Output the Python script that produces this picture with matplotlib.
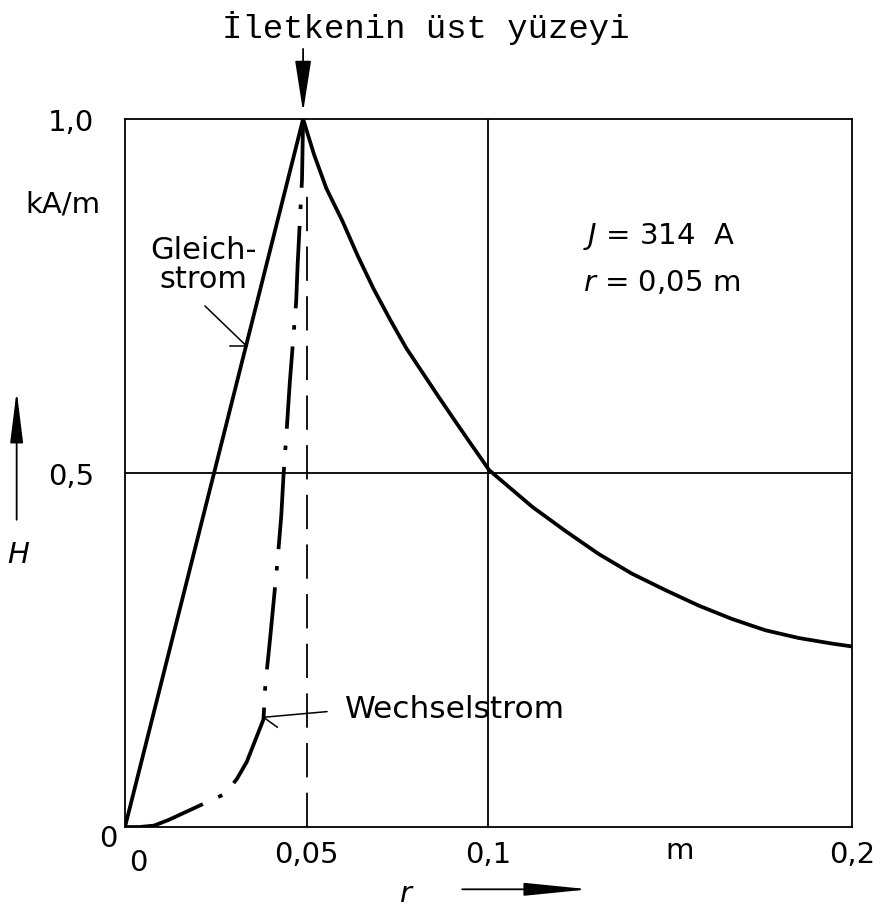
import matplotlib
matplotlib.use("Agg")
import matplotlib.pyplot as plt
from matplotlib.transforms import ScaledTranslation

# values (r in m, H in kA/m)
dc_r = [0.0, 0.049, 0.052, 0.0554, 0.0598, 0.0641, 0.0684, 0.0729, 0.0773,
        0.0817, 0.0861, 0.0906, 0.0949, 0.1002, 0.1121, 0.1212, 0.1302,
        0.1394, 0.1485, 0.1577, 0.1669, 0.1761, 0.1853, 0.1946, 0.2]
dc_h = [0.0, 1.0, 0.950, 0.902, 0.856, 0.806, 0.760, 0.717, 0.677,
        0.643, 0.609, 0.575, 0.543, 0.504, 0.452, 0.418, 0.386,
        0.358, 0.335, 0.313, 0.294, 0.278, 0.267, 0.259, 0.255]

ac_r = [0.0, 0.004, 0.008, 0.012, 0.0276, 0.0308, 0.0335, 0.0381, 0.0386,
        0.0399, 0.0419, 0.0430, 0.0436, 0.0444, 0.0453, 0.0471, 0.0475,
        0.0487, 0.049]
ac_h = [0.0, 0.0, 0.002, 0.010, 0.047, 0.068, 0.092, 0.152, 0.200,
        0.265, 0.372, 0.440, 0.496, 0.554, 0.625, 0.743, 0.795,
        0.915, 1.0]

surface_r = 0.05
peak = (0.049, 1.0)

xtick_vals = [0.0, 0.05, 0.1, 0.2]
xtick_labels = ["0", "0,05", "0,1", "0,2"]
ytick_vals = [0.0, 0.5, 1.0]
ytick_labels = ["0", "0,5", "1,0"]

plt.rcParams['font.family'] = ['DejaVu Sans']
FS = 21

fig = plt.figure(figsize=(8.82, 9.12), dpi=100)
ax = fig.add_axes([0.1417, 0.0921, 0.8243, 0.7763])
ax.set_xlim(0, 0.2)
ax.set_ylim(0, 1.0)

for s in ax.spines.values():
    s.set_linewidth(1.3)
    s.set_color("black")

# grid lines at 0.1 m and 0.5 kA/m
ax.axvline(0.1, color="black", lw=1.3)
ax.axhline(0.5, color="black", lw=1.3)

# conductor surface
ax.plot([surface_r, surface_r], [0, 0.9], color="black", lw=1.3,
        linestyle=(0, (19, 8.5)))

# Gleichstrom (DC)
ax.plot(dc_r, dc_h, color="black", lw=2.7, solid_joinstyle="round")
# Wechselstrom (AC)
ax.plot(ac_r, ac_h, color="black", lw=2.7,
        linestyle=(0, (22, 4.5, 1.2, 4.5)))

ax.set_xticks(xtick_vals)
ax.set_xticklabels(xtick_labels, fontsize=FS)
ax.set_yticks(ytick_vals)
ax.set_yticklabels(ytick_labels, fontsize=FS)
ax.tick_params(axis="both", length=0)
ax.tick_params(axis="x", pad=9)
ax.tick_params(axis="y", pad=22)
x0 = ax.get_xticklabels()[0]
x0.set_horizontalalignment("left")
x0.set_transform(x0.get_transform() + ScaledTranslation(0.04, -0.08, fig.dpi_scale_trans))
y0 = ax.get_yticklabels()[0]
y0.set_verticalalignment("top")
y0.set_transform(y0.get_transform() + ScaledTranslation(0.23, 0.03, fig.dpi_scale_trans))

# unit labels
ax.text(-0.034, 0.88, "kA/m", transform=ax.transAxes, ha="right", va="center",
        fontsize=FS)
ax.text(0.763, -0.012, "m", transform=ax.transAxes, ha="center", va="top",
        fontsize=FS)

# axis arrows with symbols
ax.annotate("", xy=(-0.149, 0.62), xytext=(-0.149, 0.43),
            xycoords="axes fraction", textcoords="axes fraction",
            arrowprops=dict(arrowstyle="-|>,head_length=1.6,head_width=0.2",
                            color="black", lw=1.3, mutation_scale=20),
            annotation_clip=False)
ax.text(-0.147, 0.385, "$H$", transform=ax.transAxes, ha="center",
        va="center", fontsize=FS)
ax.annotate("", xy=(0.642, -0.088), xytext=(0.46, -0.088),
            xycoords="axes fraction", textcoords="axes fraction",
            arrowprops=dict(arrowstyle="-|>,head_length=2.0,head_width=0.2",
                            color="black", lw=1.3, mutation_scale=20),
            annotation_clip=False)
ax.text(0.388, -0.093, "$r$", transform=ax.transAxes, ha="center",
        va="center", fontsize=FS)

# conductor surface label with arrow to the peak
ax.text(0.414, 1.13, "İletkenin üst yüzeyi", transform=ax.transAxes,
        ha="center", va="center", fontsize=24.5,
        family=["Liberation Mono", "DejaVu Sans Mono"])
ax.annotate("", xy=(peak[0], 1.01), xytext=(peak[0], 1.099),
            arrowprops=dict(arrowstyle="-|>,head_length=1.6,head_width=0.25",
                            color="black", lw=1.3, mutation_scale=20,
                            shrinkA=0, shrinkB=0),
            annotation_clip=False)

# curve labels
gl_tip = (0.0333, 0.68)
ax.text(0.0215, 0.795, "Gleich-\nstrom", ha="center", va="center",
        fontsize=22, linespacing=1.0)
ax.annotate("", xy=gl_tip, xytext=(0.022, 0.736),
            arrowprops=dict(arrowstyle="-", color="black", lw=1.1,
                            shrinkA=0, shrinkB=0))
ax.plot([gl_tip[0] - 0.0045, gl_tip[0]], [gl_tip[1], gl_tip[1]],
        color="black", lw=1.1)

ws_tip = (0.0381, 0.155)
ax.text(0.0605, 0.168, "Wechselstrom", ha="left", va="center", fontsize=22.5)
ax.annotate("", xy=ws_tip, xytext=(0.0556, 0.163),
            arrowprops=dict(arrowstyle="-", color="black", lw=1.1,
                            shrinkA=0, shrinkB=0))
ax.plot([ws_tip[0], ws_tip[0] + 0.0038], [ws_tip[1], ws_tip[1] - 0.014],
        color="black", lw=1.1)

# parameters
ax.text(0.63, 0.835, "$J$ = 314  A", transform=ax.transAxes, ha="left",
        va="center", fontsize=FS)
ax.text(0.63, 0.770, "$r$ = 0,05 m", transform=ax.transAxes, ha="left",
        va="center", fontsize=FS)

fig.savefig("out.png", dpi=100)
